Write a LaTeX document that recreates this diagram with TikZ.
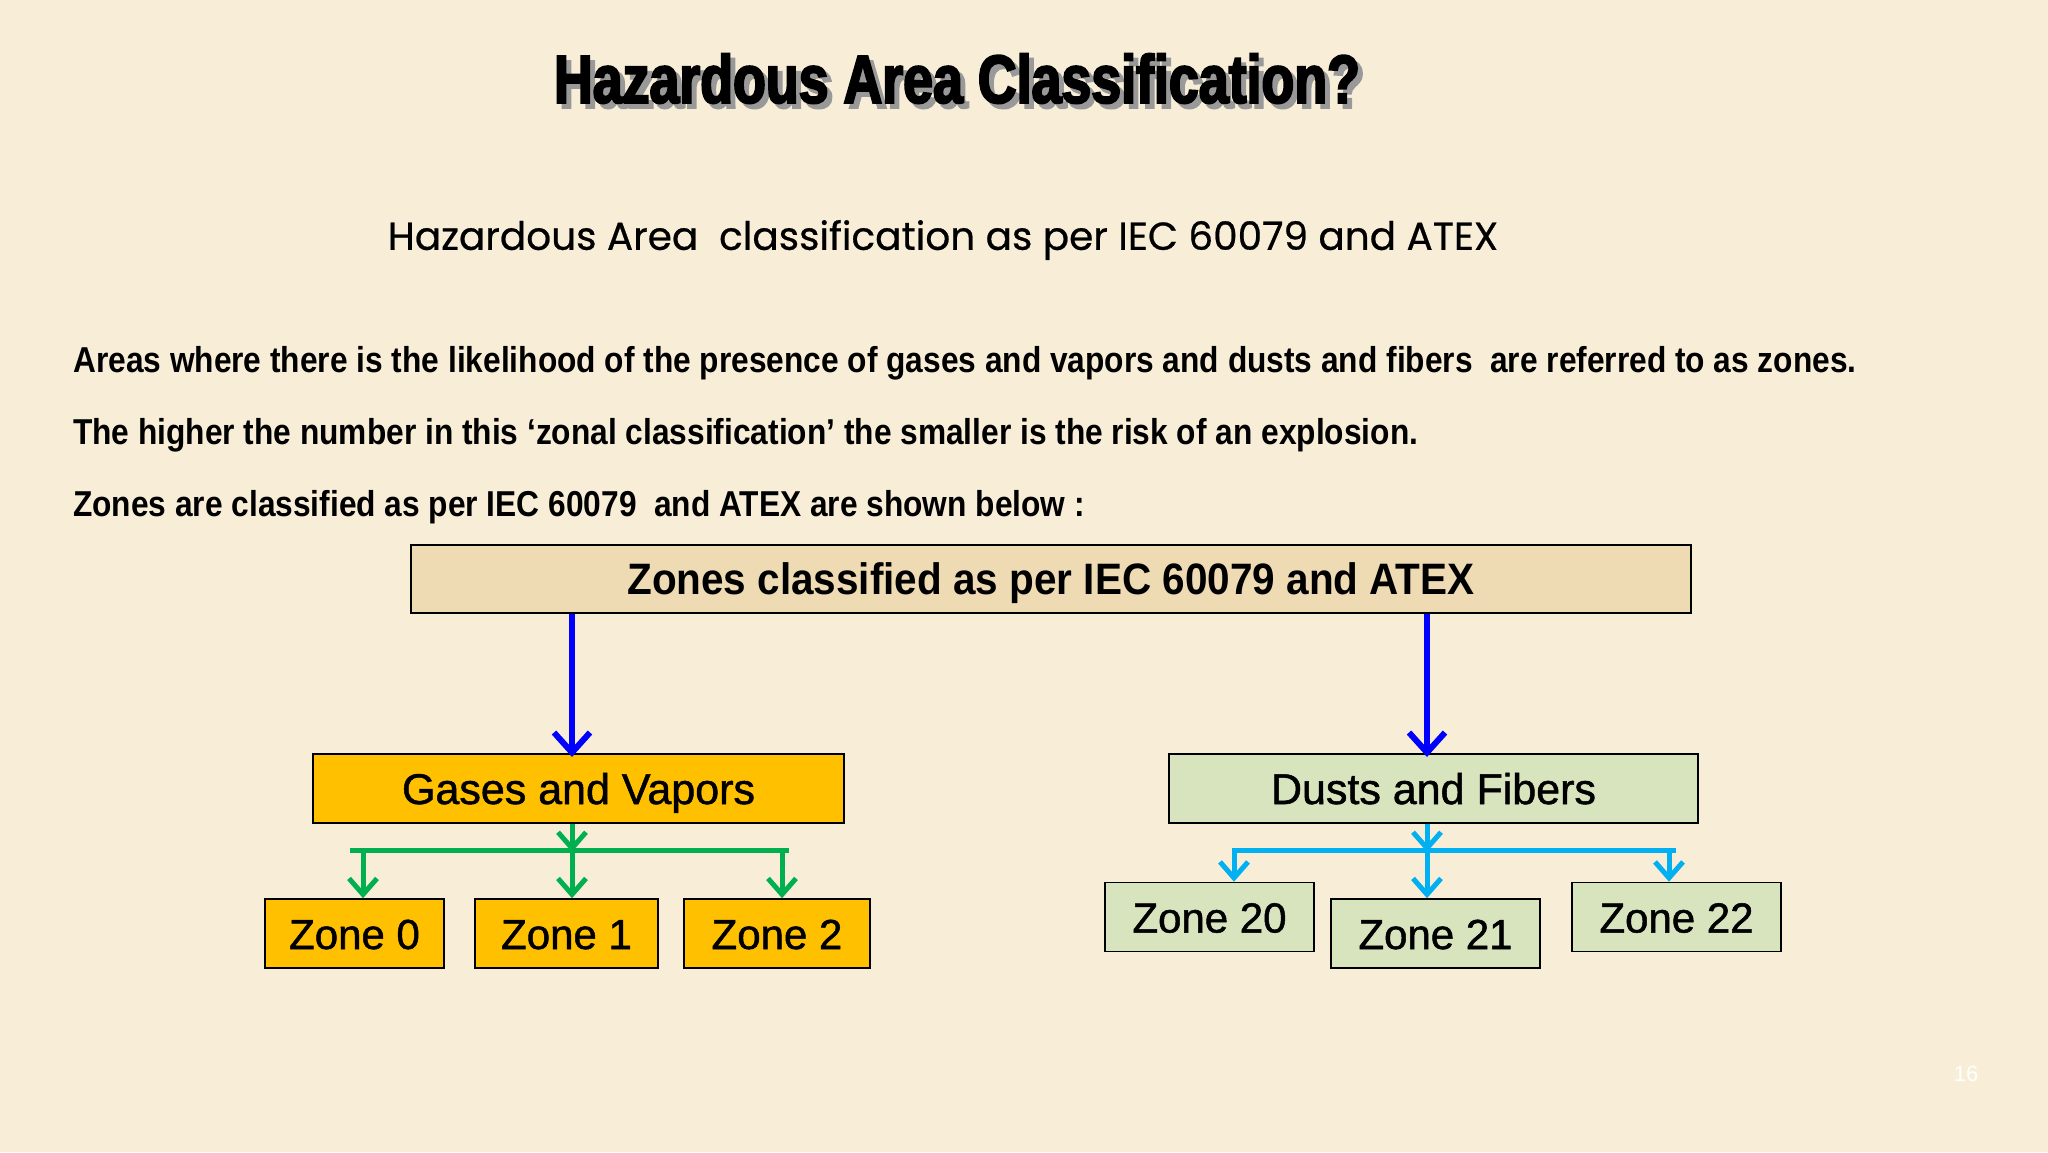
\documentclass[tikz,border=0pt]{standalone}
\usepackage{fontspec}
\usetikzlibrary{arrows.meta,calc}
\setmainfont{Liberation Sans}
\newfontfamily\titlefont{Liberation Sans}[FakeStretch=0.79,BoldFeatures={FakeBold=3}]
\newfontfamily\bodyfont{Liberation Sans}[FakeStretch=0.88]
\newfontfamily\narrowfont{Liberation Sans}[FakeStretch=0.92]
\newfontfamily\boxfont{Liberation Sans}[FakeBold=1.2]
\newfontfamily\subfont{Poppins}[FakeBold=0.6]
\definecolor{bgcol}{HTML}{F8EED8}
\definecolor{tancol}{HTML}{EEDBB4}
\definecolor{gold}{HTML}{FFC000}
\definecolor{olive}{HTML}{D7E4BD}
\definecolor{greenln}{HTML}{00B050}
\definecolor{cyanln}{HTML}{00B0F0}
\definecolor{blueln}{HTML}{0000FF}
\newcommand{\shadowed}[1]{\rlap{\hspace{5pt}\raisebox{-5pt}{\textcolor{black!40}{#1}}}#1}
\tikzset{
  box/.style={draw=black, line width=1.6pt, inner sep=0pt, text height=38pt, text depth=7pt, font=\boxfont\fontsize{43}{46}\selectfont},
  zonebox/.style={box, minimum height=69pt, font=\boxfont\fontsize{42}{46}\selectfont},
  bluearrow/.style={draw=blueln, line width=6pt, -{Straight Barb[length=20pt,width=36pt]}},
  greenarrow/.style={draw=greenln, line width=5pt, -{Straight Barb[length=16pt,width=28pt]}},
  cyanarrow/.style={draw=cyanln, line width=5pt, -{Straight Barb[length=16pt,width=28pt]}},
  bodytext/.style={anchor=west, inner sep=0pt, font=\bodyfont\bfseries\fontsize{36}{38}\selectfont}
}
\begin{document}
\begin{tikzpicture}[x=1pt,y=-1pt]
\fill[bgcol] (0,0) rectangle (2048,1152);
\useasboundingbox (0,0) rectangle (2048,1152);
% title with shadow
\node[text=black, font=\titlefont\bfseries\fontsize{68}{72}\selectfont] (title) at (957,81) {\shadowed{Hazardous Area Classification?}};
% subtitle
\node[font=\subfont\fontsize{39}{44}\selectfont] (subtitle) at (943,240) {Hazardous Area\ \ classification as per IEC 60079 and ATEX};
% body lines
\node[bodytext] (line1) at (73,363) {Areas where there is the likelihood of the presence of gases and vapors and dusts and fibers\ \ are referred to as zones.};
\node[bodytext] (line2) at (73,435) {The higher the number in this ‘zonal classification’ the smaller is the risk of an explosion.};
\node[bodytext] (line3) at (73,507) {Zones are classified as per IEC 60079\ \ and ATEX are shown below :};
% main box
\node[box, fill=tancol, minimum width=1280pt, minimum height=68pt, font=\narrowfont\bfseries\fontsize{44}{46}\selectfont] (main) at (1051,579) {Zones classified as per IEC 60079 and ATEX};
% second level
\node[box, fill=gold, minimum width=531pt, minimum height=69pt] (gases) at (578.5,788.5) {Gases and Vapors};
\node[box, fill=olive, minimum width=529pt, minimum height=69pt] (dusts) at (1433.5,788.5) {Dusts and Fibers};
% zones
\node[zonebox, fill=gold, minimum width=179pt] (z0) at (354.5,933.5) {Zone 0};
\node[zonebox, fill=gold, minimum width=183pt] (z1) at (566.5,933.5) {Zone 1};
\node[zonebox, fill=gold, minimum width=186pt] (z2) at (777,933.5) {Zone 2};
\node[zonebox, fill=olive, minimum width=209pt] (z20) at (1209.5,917) {Zone 20};
\node[zonebox, fill=olive, minimum width=209pt] (z21) at (1435.5,933.5) {Zone 21};
\node[zonebox, fill=olive, minimum width=209pt] (z22) at (1676.5,917) {Zone 22};
% blue arrows
\draw[bluearrow] (main.south -| 572,0) -- (572,757);
\draw[bluearrow] (main.south -| 1427,0) -- (1427,757);
% green connector
\coordinate (gbarL) at (350,850);
\coordinate (gbarR) at (789,850);
\draw[draw=greenln, line width=5pt] (gbarL) -- (gbarR);
\draw[greenarrow] (gases.south -| 572,0) -- (572,852);
\draw[greenarrow] (363,848) -- (z0.north -| 363,0);
\draw[greenarrow] (572,848) -- (z1.north -| 572,0);
\draw[greenarrow] (782,848) -- (z2.north -| 782,0);
% cyan connector
\coordinate (cbarL) at (1232,850);
\coordinate (cbarR) at (1676,850);
\draw[draw=cyanln, line width=5pt] (cbarL) -- (cbarR);
\draw[cyanarrow] (dusts.south -| 1427,0) -- (1427,852);
\draw[cyanarrow] (1234,848) -- (z20.north -| 1234,0);
\draw[cyanarrow] (1427,848) -- (z21.north -| 1427,0);
\draw[cyanarrow] (1669,848) -- (z22.north -| 1669,0);
% page number
\node[text=white, font=\fontsize{22}{24}\selectfont] (pagenum) at (1966,1074) {16};
\end{tikzpicture}
\end{document}
